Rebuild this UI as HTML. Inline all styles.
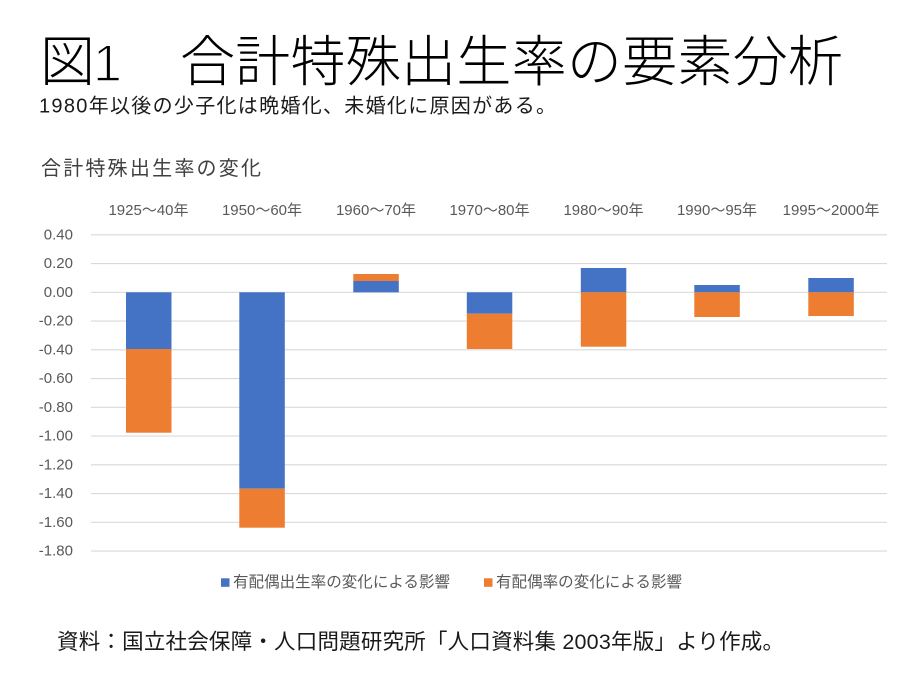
<!DOCTYPE html>
<html><head><meta charset="utf-8">
<style>
html,body{margin:0;padding:0;background:#fff;}
body{width:919px;height:678px;overflow:hidden;position:relative;}
svg{position:absolute;left:0;top:0;}
text{font-family:"Liberation Sans","Noto Sans CJK JP",sans-serif;}
</style></head>
<body>
<svg width="919" height="678" viewBox="0 0 919 678" xmlns="http://www.w3.org/2000/svg">
<defs><clipPath id="tc"><rect x="0" y="0" width="919" height="86"/></clipPath></defs>
<rect width="919" height="678" fill="#fff"/>
<g clip-path="url(#tc)">
<text x="40" y="81" font-size="55" font-weight="300" fill="#000">図</text>
<text x="93" y="81" font-size="52" font-weight="400" fill="#000" stroke="#fff" stroke-width="1.5" font-family="Liberation Sans, sans-serif">1</text>
<text x="180" y="81" font-size="55" font-weight="300" fill="#000" textLength="663" lengthAdjust="spacing">合計特殊出生率の要素分析</text>
</g>
<text x="39" y="106.5" dominant-baseline="central" font-size="20" fill="#1a1a1a" textLength="517" lengthAdjust="spacing">1980年以後の少子化は晩婚化、未婚化に原因がある。</text>
<text x="41" y="169" dominant-baseline="central" font-size="20" fill="#404040" textLength="220" lengthAdjust="spacing">合計特殊出生率の変化</text>

<g font-size="15" fill="#595959" text-anchor="middle">
<text x="148.5" y="210.5" dominant-baseline="central">1925〜40年</text>
<text x="262" y="210.5" dominant-baseline="central">1950〜60年</text>
<text x="376" y="210.5" dominant-baseline="central">1960〜70年</text>
<text x="489.5" y="210.5" dominant-baseline="central">1970〜80年</text>
<text x="603.5" y="210.5" dominant-baseline="central">1980〜90年</text>
<text x="717" y="210.5" dominant-baseline="central">1990〜95年</text>
<text x="831" y="210.5" dominant-baseline="central">1995〜2000年</text>
</g>

<g stroke="#d9d9d9" stroke-width="1.2">
<line x1="91" x2="887" y1="234.8" y2="234.8"/>
<line x1="91" x2="887" y1="263.55" y2="263.55"/>
<line x1="91" x2="887" y1="292.3" y2="292.3"/>
<line x1="91" x2="887" y1="321.05" y2="321.05"/>
<line x1="91" x2="887" y1="349.8" y2="349.8"/>
<line x1="91" x2="887" y1="378.55" y2="378.55"/>
<line x1="91" x2="887" y1="407.3" y2="407.3"/>
<line x1="91" x2="887" y1="436.05" y2="436.05"/>
<line x1="91" x2="887" y1="464.8" y2="464.8"/>
<line x1="91" x2="887" y1="493.55" y2="493.55"/>
<line x1="91" x2="887" y1="522.3" y2="522.3"/>
<line x1="91" x2="887" y1="551.05" y2="551.05"/>
</g>

<g font-size="15" fill="#595959" text-anchor="end">
<text x="73" y="234.8" dominant-baseline="central">0.40</text>
<text x="73" y="263.55" dominant-baseline="central">0.20</text>
<text x="73" y="292.3" dominant-baseline="central">0.00</text>
<text x="73" y="321.05" dominant-baseline="central">-0.20</text>
<text x="73" y="349.8" dominant-baseline="central">-0.40</text>
<text x="73" y="378.55" dominant-baseline="central">-0.60</text>
<text x="73" y="407.3" dominant-baseline="central">-0.80</text>
<text x="73" y="436.05" dominant-baseline="central">-1.00</text>
<text x="73" y="464.8" dominant-baseline="central">-1.20</text>
<text x="73" y="493.55" dominant-baseline="central">-1.40</text>
<text x="73" y="522.3" dominant-baseline="central">-1.60</text>
<text x="73" y="551.05" dominant-baseline="central">-1.80</text>
</g>

<!-- bars -->
<g>
<rect x="126" y="292.3" width="45.5" height="56.7" fill="#4472C4"/>
<rect x="126" y="349" width="45.5" height="83.7" fill="#ED7D31"/>

<rect x="239.3" y="292.3" width="45.5" height="196.4" fill="#4472C4"/>
<rect x="239.3" y="488.7" width="45.5" height="39" fill="#ED7D31"/>

<rect x="353.3" y="281" width="45.5" height="11.3" fill="#4472C4"/>
<rect x="353.3" y="274" width="45.5" height="7" fill="#ED7D31"/>

<rect x="466.8" y="292.3" width="45.5" height="21.4" fill="#4472C4"/>
<rect x="466.8" y="313.7" width="45.5" height="35.3" fill="#ED7D31"/>

<rect x="580.8" y="268" width="45.5" height="24.3" fill="#4472C4"/>
<rect x="580.8" y="292.3" width="45.5" height="54.4" fill="#ED7D31"/>

<rect x="694.3" y="285" width="45.5" height="7.3" fill="#4472C4"/>
<rect x="694.3" y="292.3" width="45.5" height="24.7" fill="#ED7D31"/>

<rect x="808.3" y="278" width="45.5" height="14.3" fill="#4472C4"/>
<rect x="808.3" y="292.3" width="45.5" height="23.7" fill="#ED7D31"/>
</g>

<!-- legend -->
<rect x="221" y="578.3" width="8.5" height="8.5" fill="#4472C4"/>
<text x="233" y="582.7" dominant-baseline="central" font-size="15.5" fill="#595959" textLength="217" lengthAdjust="spacing">有配偶出生率の変化による影響</text>
<rect x="484" y="578.3" width="8.5" height="8.5" fill="#ED7D31"/>
<text x="496" y="582.7" dominant-baseline="central" font-size="15.5" fill="#595959" textLength="186" lengthAdjust="spacing">有配偶率の変化による影響</text>

<!-- footer -->
<text x="57" y="642" dominant-baseline="central" font-size="21.5" fill="#1a1a1a" textLength="727" lengthAdjust="spacing">資料：国立社会保障・人口問題研究所「人口資料集 2003年版」より作成。</text>
</svg>
</body></html>
